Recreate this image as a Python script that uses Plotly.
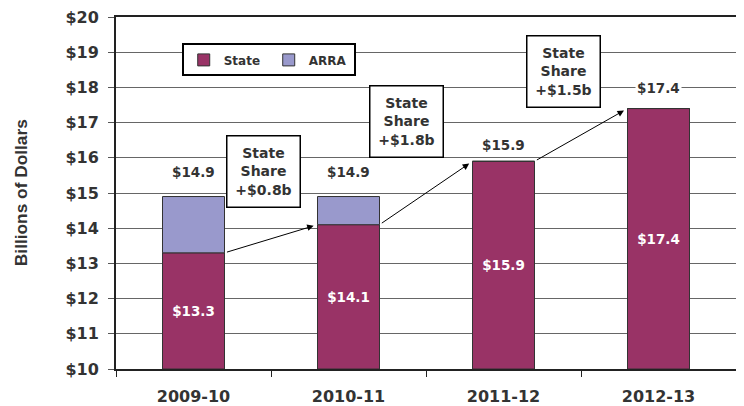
import plotly.graph_objects as go

years = ["2009-10", "2010-11", "2011-12", "2012-13"]
state = [13.3, 14.1, 15.9, 17.4]
arra = [1.6, 0.8, 0.0, 0.0]
totals = [14.9, 14.9, 15.9, 17.4]
share_labels = ["State<br>Share<br>+$0.8b", "State<br>Share<br>+$1.8b", "State<br>Share<br>+$1.5b"]
y_ticks = list(range(10, 21))
y_tick_text = ["$%d" % v for v in y_ticks]

STATE_C = "#993366"
ARRA_C = "#9999CC"
FONT = "DejaVu Sans"
TXT = "#333333"

fig = go.Figure()
fig.add_trace(go.Bar(
    x=years, y=[s - 10 for s in state], base=10, name="State",
    marker=dict(color=STATE_C, line=dict(color="#333333", width=1)),
    text=["$%.1f" % s for s in state], textposition="inside",
    insidetextanchor="middle",
    textfont=dict(family=FONT, size=13.5, color="white", weight="bold"),
    hoverinfo="skip",
))
fig.add_trace(go.Bar(
    x=years, y=arra, base=state, name="ARRA",
    marker=dict(color=ARRA_C, line=dict(color="#333333", width=1)),
    hoverinfo="skip",
))

anns = []
# total labels above bars
label_offsets = [0.7, 0.7, 0.45, 0.58]
for i, t in enumerate(totals):
    anns.append(dict(x=i, y=t + label_offsets[i], xref="x", yref="y",
                     text="$%.1f" % t, showarrow=False, bgcolor="white",
                     font=dict(family=FONT, size=13.5, color=TXT, weight="bold")))

# arrows between state tops
for i in range(3):
    anns.append(dict(x=i + 1 - 0.2, y=state[i + 1], ax=i + 0.2, ay=state[i],
                     xref="x", yref="y", axref="x", ayref="y", text="",
                     showarrow=True, arrowhead=2, arrowsize=1.3, arrowwidth=1,
                     arrowcolor="black", standoff=4, startstandoff=1))

# share boxes
box_pos = [(0.45, 15.6), (1.377, 17.02), (2.39, 18.44)]
for (bx, by), txt in zip(box_pos, share_labels):
    anns.append(dict(x=bx, y=by, xref="x", yref="y", text=txt, showarrow=False,
                     bgcolor="white", bordercolor="black", borderwidth=1.5,
                     borderpad=3, width=66, height=64,
                     font=dict(family=FONT, size=14, color=TXT, weight="bold")))

# y-axis title
anns.append(dict(x=-0.153, y=0.5, xref="paper", yref="paper", text="Billions of Dollars",
                 textangle=-90, showarrow=False, xanchor="center", yanchor="middle",
                 font=dict(family="Liberation Sans", size=17.3, color=TXT, weight="bold")))

fig.update_layout(
    width=736, height=398,
    margin=dict(l=108, r=8, t=9, b=37),
    paper_bgcolor="white", plot_bgcolor="white",
    barmode="overlay", bargap=0.6,
    showlegend=True,
    legend=dict(orientation="h", x=0.106, y=0.925, xanchor="left", yanchor="top",
                bgcolor="white", bordercolor="black", borderwidth=2,
                font=dict(family=FONT, size=12, color=TXT, weight="bold"),
                traceorder="normal", itemwidth=30, entrywidthmode="pixels", entrywidth=40),
    annotations=anns,
    font=dict(family=FONT, color=TXT),
)
fig.update_xaxes(
    type="category", showline=True, linecolor="#222222", linewidth=2, mirror=True,
    ticks="outside", tickson="boundaries", ticklen=6, tickcolor="#222222",
    showgrid=False, ticklabelstandoff=12, automargin=False,
    tickfont=dict(family=FONT, size=16, color=TXT, weight="bold"),
)
fig.update_yaxes(
    range=[10, 20], tickvals=y_ticks, ticktext=y_tick_text,
    showline=True, linecolor="#222222", linewidth=2, mirror=True,
    ticks="outside", ticklen=6, tickcolor="#555555",
    showgrid=True, gridcolor="#666666", gridwidth=1.3,
    ticklabelstandoff=6, automargin=False, ticklabeloverflow="allow",
    tickfont=dict(family=FONT, size=16, color=TXT, weight="bold"),
)
fig.write_html("out.html")
